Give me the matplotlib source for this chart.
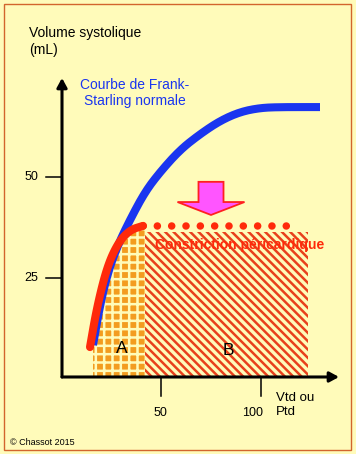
import numpy as np
import matplotlib.pyplot as plt
from matplotlib.patches import Rectangle, FancyArrow

plt.rcParams['font.family'] = ['Liberation Sans', 'DejaVu Sans']
plt.rcParams['hatch.linewidth'] = 1.8

# normal Frank-Starling curve (Vtd, mL)
blue_x = [16, 19.5, 23.5, 28.5, 34.5, 42, 49.5, 59.5, 69.5, 79.5, 89.5, 99.5, 109.5, 129.5]
blue_y = [8.4, 18.3, 26.5, 33.2, 39.4, 46.3, 51.2, 56.7, 60.6, 63.9, 66.1, 67.1, 67.3, 67.3]

# pericardial constriction curve
red_x = [14.5, 18, 23, 28.5, 34.5, 41]
red_y = [7.9, 17.8, 27.7, 33.7, 36.9, 37.9]
plateau_end = 119

# zones A and B
zone_a_start = 16
zone_b = (42, 123.5)
zone_top = 36.5

xticks = [50, 100]
yticks = [25, 50]

bg = '#FFFBBA'
red = '#FF2A0A'
blue = '#1A35F0'


def smooth(xs, ys, n=4):
    # Chaikin corner cutting, endpoints kept
    p = np.column_stack([xs, ys]).astype(float)
    for _ in range(n):
        q = 0.75 * p[:-1] + 0.25 * p[1:]
        r = 0.25 * p[:-1] + 0.75 * p[1:]
        mid = np.empty((2 * len(q), 2))
        mid[0::2] = q
        mid[1::2] = r
        p = np.vstack([p[:1], mid, p[-1:]])
    return p[:, 0], p[:, 1]


fig = plt.figure(figsize=(3.56, 4.54), dpi=100)
fig.patch.set_facecolor(bg)
ax = fig.add_axes([0, 0, 1, 1])
ax.set_xlim(-30.5, 147.5)
ax.set_ylim(-18.56, 93.8)
ax.axis('off')

bx, by = smooth(blue_x, blue_y)
rx, ry = smooth(red_x, red_y)

# zone A (orange pattern under the red curve)
xa = np.linspace(zone_a_start, zone_b[0], 80)
ya = np.interp(xa, rx, ry)
ax.fill_between(xa, 0.5, ya, facecolor='#F39C1F', edgecolor=bg, hatch='++', linewidth=0, zorder=1)

# zone B (red hatch)
ax.bar(zone_b[0], zone_top - 0.5, width=zone_b[1] - zone_b[0], bottom=0.5, align='edge',
       facecolor=bg, edgecolor='#E8401C', hatch='\\\\\\\\', linewidth=0, zorder=1)

ax.plot(bx, by, color=blue, lw=5.8, solid_capstyle='butt', zorder=3)
ax.plot(rx, ry, color=red, lw=5.8, solid_capstyle='round', zorder=4)
ax.plot([red_x[-1], plateau_end], [red_y[-1], red_y[-1]], color=red, lw=5.4,
        linestyle=(0, (0.01, 1.9)), dash_capstyle='round', zorder=4)

# axes
arrow = dict(arrowstyle='-|>,head_length=0.55,head_width=0.3', lw=2.2, color='black',
             shrinkA=0, shrinkB=0)
ax.annotate('', xy=(0.5, 74.5), xytext=(0.5, 0.5), arrowprops=arrow, zorder=5)
ax.annotate('', xy=(139, 0.5), xytext=(0.5, 0.5), arrowprops=arrow, zorder=5)

for t in yticks:
    ax.plot([-7.5, 0.5], [t, t], color='black', lw=1.1, zorder=5)
    ax.text(-15, t, str(t), ha='center', va='center', fontsize=9)
for t in xticks:
    ax.plot([t, t], [0.5, -4.2], color='black', lw=1.1, zorder=5)
    ax.text(t - 0.5 if t == 50 else t - 4, -8.3, str(t), ha='center', va='center', fontsize=9)

ax.text(-15.8, 83.5, 'Volume systolique\n(mL)', ha='left', va='center', fontsize=10,
        linespacing=1.3)
ax.text(37, 70.8, 'Courbe de Frank-\nStarling normale', ha='center', va='center',
        fontsize=10, color=blue, linespacing=1.25)
ax.text(107.5, -6.4, 'Vtd ou\nPtd', ha='left', va='center', fontsize=9.5, linespacing=1.3)
ax.text(-25.5, -15.6, '\u00a9 Chassot 2015', ha='left', va='center', fontsize=6.5)
ax.text(47, 33.2, 'Constriction p\u00e9ricardique', ha='left', va='center', fontsize=10,
        fontweight='bold', color=red, zorder=6)
ax.text(30.5, 7.5, 'A', ha='center', va='center', fontsize=12.5, zorder=6)
ax.text(83.5, 7, 'B', ha='center', va='center', fontsize=12.5, zorder=6)

# pink arrow
ax.add_patch(FancyArrow(75, 48.8, 0, -8.2, width=12.5, head_width=33.5, head_length=3.2,
                        length_includes_head=True, fc='#FF55FF', ec='#FF2020', lw=1.3, zorder=6))

fig.add_artist(Rectangle((4 / 356, 4 / 454), 347 / 356, 446 / 454, transform=fig.transFigure,
                         fill=False, ec='#D2652D', lw=1))

fig.savefig('out.png', dpi=100)
